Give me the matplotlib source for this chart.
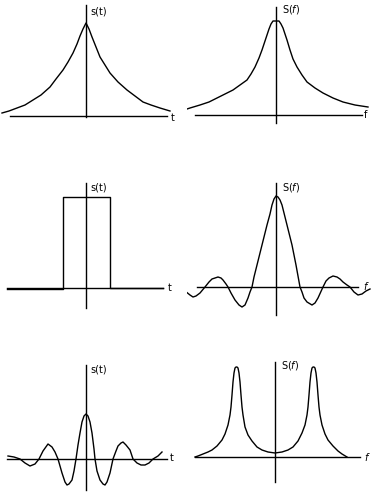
import matplotlib
matplotlib.use("Agg")
import matplotlib.pyplot as plt

# Pares de Fourier: valores (x desde el eje vertical, y sobre la linea base)

# s(t) exponencial bilateral
t_exp = [-84, -77, -69, -61, -53, -45, -36, -30, -23, -18, -13, -9, -6, -3, 0,
         3, 6, 10, 14, 19, 24, 32, 41, 49, 57, 65, 74, 84]
s_exp = [3, 5, 8, 11, 16, 21, 29, 37, 46, 54, 63, 72, 80, 87, 93,
         87, 79, 69, 59, 51, 43, 34, 26, 20, 14, 11, 8, 5]

# S(f) lorentziana
f_lor = [-89, -86, -76, -67, -59, -51, -43, -36, -29, -25, -21, -17, -14, -11, -9, -7, -5, -3, 0,
         3, 5, 7, 9, 11, 14, 17, 21, 26, 31, 39, 47, 57, 67, 79, 92]
S_lor = [6, 7, 10, 13, 17, 21, 25, 30, 35, 41, 48, 57, 65, 74, 80, 86, 91, 94, 94,
         94, 91, 87, 81, 75, 65, 56, 48, 40, 33, 27, 22, 17, 13, 10, 8]

# s(t) pulso rectangular
t_rect = [-79, -23, -23, 24, 24, 77]
s_rect = [-1, -1, 91, 91, 0, 0]

# S(f) sinc
f_sinc = [-91, -86, -83, -80, -76, -71, -67, -64, -61, -58, -55, -53, -50, -48, -45, -41, -37, -34,
          -31, -28, -26, -24, -22, -19, -17, -14, -11, -9, -6, -4, -2, 0,
          2, 4, 6, 8, 11, 14, 16, 18, 20, 22, 24, 26, 28, 31, 36, 39, 42, 47,
          50, 53, 57, 61, 64, 67, 71, 74, 78, 82, 86, 90, 94]
S_sinc = [-4, -8, -10, -9, -6, 0, 5, 8, 9, 10, 9, 7, 3, 0, -6, -13, -18, -20,
          -18, -11, -5, 0, 10, 22, 30, 42, 54, 62, 73, 82, 88, 91,
          90, 87, 82, 74, 62, 50, 42, 32, 22, 11, 0, -5, -11, -15, -18, -16, -11, 0,
          6, 9, 11, 10, 8, 5, 2, 0, -5, -8, -7, -4, -2]

# s(t) exponencial modulada
t_mod = [-78, -72, -66, -61, -56, -51, -47, -43, -38, -34, -31, -28, -24, -21, -19, -17, -14, -12,
         -10, -8, -6, -4, -2, 0, 2, 4, 6, 8, 9, 11, 14, 17, 19, 21, 24, 27, 30, 32, 35, 37,
         40, 44, 47, 51, 55, 59, 63, 67, 72, 76]
s_mod = [3, 2, 0, -4, -7, -5, 0, 8, 15, 12, 7, 0, -14, -23, -26, -25, -21, -12,
         0, 14, 26, 37, 43, 45, 43, 37, 26, 10, 0, -12, -21, -25, -26, -23, -14, 0, 8, 13, 16, 17,
         14, 9, 0, -4, -6, -6, -4, 0, 3, 7]

# S(f) dos lorentzianas
f_dos = [-80, -77, -72, -67, -63, -58, -53, -50, -47, -45, -44, -43, -42, -41, -40, -39, -38, -37,
         -36, -35, -34, -33, -32, -30, -27, -23, -18, -13, -7, 0, 7, 13, 18, 23, 27, 30, 32, 33,
         34, 35, 36, 37, 38, 39, 40, 41, 42, 43, 44, 45, 47, 50, 53, 58, 63, 67, 72]
S_dos = [0, 1, 3, 5, 7, 11, 17, 23, 32, 42, 50, 62, 75, 84, 89, 90, 90, 89,
         84, 75, 62, 50, 42, 30, 22, 16, 10, 7, 5, 4, 5, 7, 10, 16, 24, 32, 42, 50,
         62, 75, 84, 89, 90, 90, 89, 84, 75, 62, 50, 42, 32, 23, 17, 11, 6, 3, 0]

W, H = 375, 492
fig = plt.figure(figsize=(W / 100, H / 100), dpi=100)


# Un panel: origen (ox, oy) en pixeles, caja [x0, x1] x [y0, y1]; 1 unidad = 1 pixel
def nuevo_panel(ox, oy, x0, x1, y0, y1):
    ax = fig.add_axes([x0 / W, 1 - y1 / H, (x1 - x0) / W, (y1 - y0) / H])
    ax.set_xlim(x0 - ox, x1 - ox)
    ax.set_ylim(oy - y1, oy - y0)
    ax.axis("off")
    return ax


def ejes(ax, xb, yv, etiqueta_y, pos_y, etiqueta_x, pos_x):
    ax.plot(xb, [0, 0], color="black", lw=1.0)
    ax.plot([0, 0], yv, color="black", lw=1.0)
    ax.text(pos_y[0], pos_y[1], etiqueta_y, fontsize=7, va="center", ha="left")
    ax.text(pos_x[0], pos_x[1], etiqueta_x, fontsize=7, va="center", ha="left")


ax1 = nuevo_panel(86, 116, 0, 187, 0, 160)
ejes(ax1, [-76, 81], [111, -1], "s(t)", (4, 104), "t", (85, -2))
ax1.plot(t_exp, s_exp, color="black", lw=1.0)

ax2 = nuevo_panel(276, 115, 187, 375, 0, 160)
ejes(ax2, [-81, 86], [108, -8], r"S($\mathit{f}$)", (6, 105), "f", (88, 0))
ax2.plot(f_lor, S_lor, color="black", lw=1.0)

ax3 = nuevo_panel(86, 288, 0, 187, 160, 330)
ejes(ax3, [-79, 77], [105, -20], "s(t)", (4, 100), "t", (82, 0))
ax3.plot(t_rect, s_rect, color="black", lw=1.0)

ax4 = nuevo_panel(276, 287, 187, 375, 160, 330)
ejes(ax4, [-79, 82], [104, -28], r"S($\mathit{f}$)", (6, 100), r"$\mathit{f}$", (87, 1))
ax4.plot(f_sinc, S_sinc, color="black", lw=1.0)

ax5 = nuevo_panel(86, 459, 0, 187, 330, 492)
ejes(ax5, [-79, 81], [94, -31], "s(t)", (4, 89), "t", (84, 1))
ax5.plot(t_mod, s_mod, color="black", lw=1.0)

ax6 = nuevo_panel(275, 457, 187, 375, 330, 492)
ejes(ax6, [-80, 85], [95, -25], r"S($\mathit{f}$)", (6, 92), r"$\mathit{f}$", (89, 0))
ax6.plot(f_dos, S_dos, color="black", lw=1.0)

fig.savefig("out.png", dpi=100)
